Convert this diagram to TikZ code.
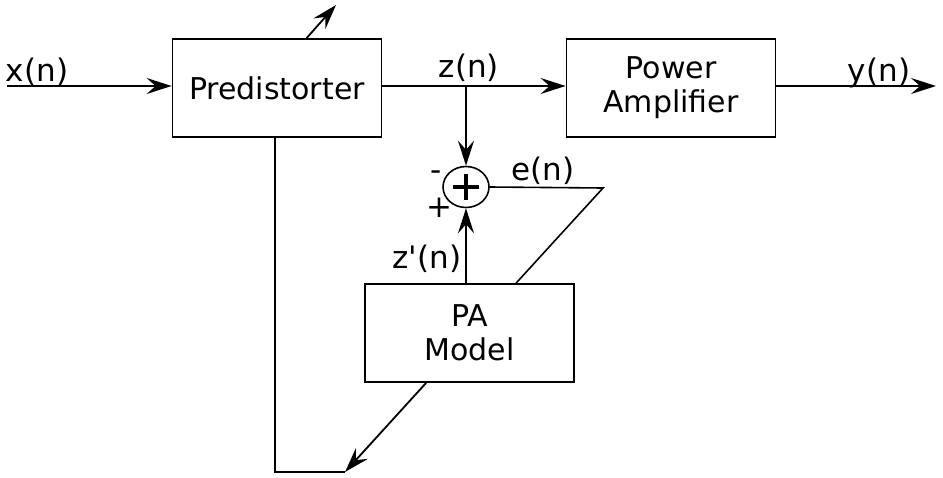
\documentclass[tikz,border=0pt]{standalone}
\usepackage{fontspec}
\setmainfont{DejaVu Sans}
\usetikzlibrary{arrows.meta,shapes.geometric,calc}
\begin{document}
\begin{tikzpicture}[x=1pt,y=-1pt,
  blk/.style={draw,line width=1.8pt,minimum width=209pt,minimum height=98pt,inner sep=0pt,align=center,
    font=\fontsize{30}{34}\selectfont},
  lbl/.style={anchor=base,inner sep=0pt,font=\fontsize{31}{34}\selectfont},
  arr/.style={line width=1.8pt,-{Stealth[length=25pt,width=16pt,inset=9pt]}},
  ln/.style={line width=1.6pt}]
\useasboundingbox (0,0) rectangle (943,477);
\node[blk] (pd) at (277,88) {Predistorter};
\node[blk] (pa) at (671,88) {Power\\Amplifier};
\node[blk] (pm) at (469.5,333) {PA\\Model};
\node[draw,ellipse,line width=1.6pt,minimum width=46pt,minimum height=41pt,inner sep=0pt] (s) at (466,187) {};
\draw[line width=3.4pt] ($(s.center)+(-13,0)$) -- ($(s.center)+(13,0)$)
  ($(s.center)+(0,-13)$) -- ($(s.center)+(0,13)$);
\coordinate (xin) at (7,86);
\coordinate (yout) at (936,86);
\coordinate (tp) at (336,5);
\coordinate (j) at (466,86);
\coordinate (c1) at (603,188);
\coordinate (bl) at (275,472);
\coordinate (br) at (345,472);
% connectors
\draw[arr] (xin) -- (xin -| pd.west);
\draw[arr] ($(pd.north west)+(135,0)$) -- (tp);
\draw[arr] (j -| pd.east) -- (j -| pa.west);
\draw[arr] (j) -- (s.north);
\draw[arr] (yout -| pa.east) -- (yout);
\draw[ln] (s.east) -- (c1) -- ($(pm.north west)+(152,0)$);
\draw[arr] (s |- pm.north) -- (s.south);
\draw[ln] (bl |- pd.south) -- (bl) -- (br);
\draw[arr] ($(pm.south west)+(62,0)$) -- (br);
% labels
\node[lbl] (lx) at (37,81) {x(n)};
\node[lbl] (lz) at (469,77) {z(n)};
\node[lbl] (ly) at (879,81) {y(n)};
\node[lbl] (le) at (543,180) {e(n)};
\node[lbl] (lzp) at (427,268) {z\textquotesingle(n)};
\node[lbl] (lm) at (436,180) {-};
\node[lbl] (lp) at (439,217) {+};
\end{tikzpicture}
\end{document}
